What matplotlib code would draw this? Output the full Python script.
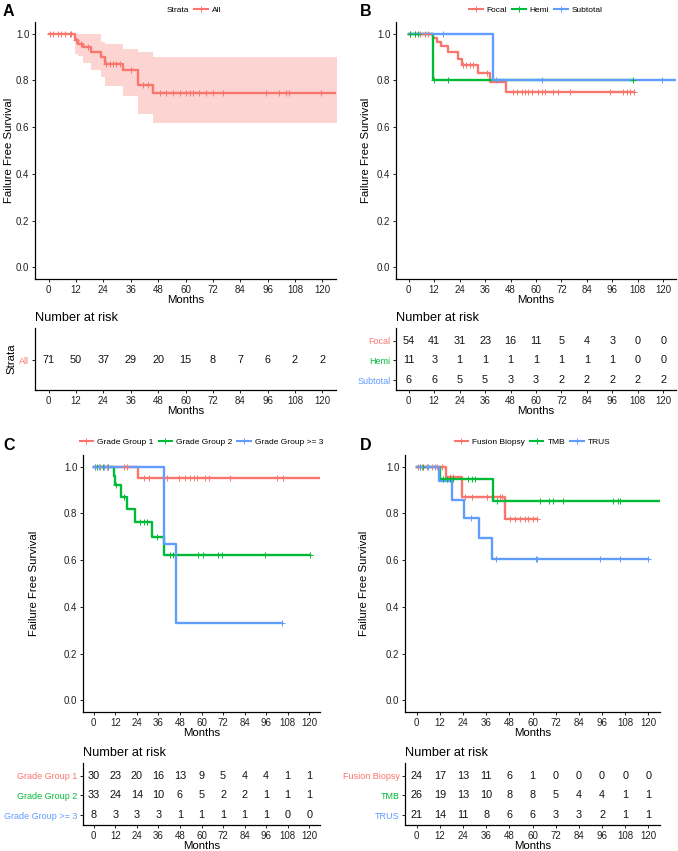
"""Kaplan-Meier failure free survival, four panels with number-at-risk tables."""

import matplotlib

matplotlib.use("Agg")

import matplotlib.pyplot as plt
import numpy as np
from matplotlib.lines import Line2D

plt.rcParams["font.family"] = ["Liberation Sans", "DejaVu Sans"]

WIDTH_PX = 678
HEIGHT_PX = 851

RED = "#F8766D"
GREEN = "#00BA38"
BLUE = "#619CFF"

TICKS = [0, 12, 24, 36, 48, 60, 72, 84, 96, 108, 120]

# Panel A, all patients
A_TIMES = [11.5, 13.0, 15.0, 18.7, 23.0, 24.5, 32.5, 39.0, 45.7]
A_SURV = [0.971, 0.957, 0.942, 0.920, 0.900, 0.871, 0.843, 0.781, 0.746]
A_UPPER = [1.0, 1.0, 1.0, 1.0, 0.965, 0.957, 0.935, 0.920, 0.900]
A_LOWER = [0.915, 0.905, 0.875, 0.845, 0.815, 0.775, 0.735, 0.658, 0.617]
A_CENSOR = [0.4, 1.9, 4.1, 5.5, 7.0, 9.2, 9.9, 12.1, 14.3, 17.2, 25.3, 26.7,
            28.2, 29.6, 31.1, 36.2, 41.3, 43.5, 48.6, 51.5, 54.5, 57.4, 60.3,
            61.8, 63.2, 66.1, 69.1, 72.0, 76.4, 95.3, 101.2, 104.1, 105.5, 119.4]
A_END = 130.0
A_RISK = [71, 50, 37, 29, 20, 15, 8, 7, 6, 2, 2]

# Panel B, by ablation extent
B_LABELS = ["Focal", "Hemi", "Subtotal"]
B_FOCAL_TIMES = [11.5, 13.1, 15.4, 18.6, 23.3, 24.9, 32.7, 38.3, 45.8]
B_FOCAL_SURV = [0.982, 0.965, 0.946, 0.920, 0.892, 0.864, 0.830, 0.794, 0.749]
B_FOCAL_CENSOR = [0.5, 2.8, 5.2, 7.6, 9.1, 25.7, 27.2, 28.8, 30.4, 37.0, 49.3,
                  50.9, 53.2, 54.8, 56.4, 58.0, 61.1, 62.7, 64.2, 68.2, 70.5,
                  76.0, 95.0, 101.2, 102.8, 104.4, 106.0]
B_FOCAL_END = 106.0
B_HEMI_TIMES = [11.5]
B_HEMI_SURV = [0.8]
B_HEMI_CENSOR = [0.5, 2.8, 4.4, 11.8, 18.6, 105.6]
B_HEMI_END = 105.6
B_SUB_TIMES = [39.5]
B_SUB_SURV = [0.8]
B_SUB_CENSOR = [16.0, 41.0, 62.6, 119.6]
B_SUB_END = 130.0
B_RISK = [
    [54, 41, 31, 23, 16, 11, 5, 4, 3, 0, 0],
    [11, 3, 1, 1, 1, 1, 1, 1, 1, 0, 0],
    [6, 6, 5, 5, 3, 3, 2, 2, 2, 2, 2],
]

# Panel C, by grade group
C_LABELS = ["Grade Group 1", "Grade Group 2", "Grade Group >= 3"]
C_G1_TIMES = [24.4]
C_G1_SURV = [0.95]
C_G1_CENSOR = [0.9, 3.7, 7.4, 16.7, 18.6, 27.8, 30.6, 40.8, 47.2, 50.9, 53.7,
               55.6, 57.4, 62.1, 63.9, 75.9, 101.9, 105.2]
C_G1_END = 130.0
C_G2_TIMES = [11.5, 12.1, 15.0, 18.6, 23.2, 32.4, 38.9]
C_G2_SURV = [0.962, 0.923, 0.871, 0.820, 0.764, 0.700, 0.620]
C_G2_CENSOR = [2.0, 5.0, 8.0, 12.4, 17.1, 25.9, 27.8, 29.7, 35.2, 42.6, 44.4,
               58.3, 61.1, 69.4, 71.3, 95.4, 120.4]
C_G2_END = 120.4
C_G3_TIMES = [39.3, 45.9]
C_G3_SURV = [0.667, 0.333]
C_G3_CENSOR = [0.5, 3.0, 5.5, 8.0, 104.7]
C_G3_END = 104.7
C_RISK = [
    [30, 23, 20, 16, 13, 9, 5, 4, 4, 1, 1],
    [33, 24, 14, 10, 6, 5, 2, 2, 1, 1, 1],
    [8, 3, 3, 3, 1, 1, 1, 1, 1, 0, 0],
]

# Panel D, by biopsy method
D_LABELS = ["Fusion Biopsy", "TMB", "TRUS"]
D_FUS_TIMES = [15.2, 23.3, 45.8]
D_FUS_SURV = [0.957, 0.871, 0.776]
D_FUS_CENSOR = [0.8, 2.6, 5.2, 7.8, 10.4, 13.0, 17.3, 19.0, 25.0, 28.5, 36.3,
                43.2, 44.0, 48.3, 50.9, 53.5, 56.1, 57.8, 60.4, 62.2]
D_FUS_END = 62.2
D_TMB_TIMES = [12.1, 39.7]
D_TMB_SURV = [0.947, 0.853]
D_TMB_CENSOR = [1.7, 3.4, 13.8, 15.5, 17.3, 19.0, 26.7, 28.5, 30.2, 41.5, 63.9,
                68.7, 70.8, 76.0, 101.6, 104.5, 105.3]
D_TMB_END = 130.0
D_TRUS_TIMES = [11.6, 18.3, 24.7, 32.3, 38.9]
D_TRUS_SURV = [0.940, 0.857, 0.781, 0.696, 0.607]
D_TRUS_CENSOR = [1.7, 6.0, 9.5, 28.0, 41.1, 61.8, 62.5, 95.0, 105.3, 120.0]
D_TRUS_END = 120.0
D_RISK = [
    [24, 17, 13, 11, 6, 1, 0, 0, 0, 0, 0],
    [26, 19, 13, 10, 8, 8, 5, 4, 4, 1, 1],
    [21, 14, 11, 8, 6, 6, 3, 3, 2, 1, 1],
]


def rect(left, top, right, bottom):
    return [left / WIDTH_PX, 1 - bottom / HEIGHT_PX,
            (right - left) / WIDTH_PX, (bottom - top) / HEIGHT_PX]


def fx(x):
    return x / WIDTH_PX


def fy(y):
    return 1 - y / HEIGHT_PX


def style(axes):
    axes.spines["top"].set_visible(False)
    axes.spines["right"].set_visible(False)
    axes.spines["left"].set_linewidth(0.9)
    axes.spines["bottom"].set_linewidth(0.9)
    axes.set_xlim(-6, 126)
    axes.set_xticks(TICKS)
    axes.tick_params(length=2.5, width=0.7, labelsize=7.0, pad=1.5,
                     colors="#222222")
    axes.set_xlabel("Months", fontsize=8.2, labelpad=0)


def draw_curve(axes, times, surv, censor, end, colour):
    x = [0.0] + list(times) + [end]
    y = [1.0] + list(surv) + [surv[-1]]
    axes.step(x, y, where="post", color=colour, linewidth=1.7, zorder=3)
    levels = np.array([1.0] + list(surv))
    idx = np.searchsorted(np.array(times), np.array(censor), side="right")
    axes.plot(censor, levels[idx], linestyle="", marker="+", markersize=4,
              markeredgewidth=0.7, color=colour, zorder=4)


def draw_panel(fig, letter, letter_px, ylabel_x, plot_px, table_px, curves,
               labels, colours, risk, rows, legend_y, strata_title=False):
    left, top, right, bottom = plot_px
    axes = fig.add_axes(rect(left, top, right, bottom))
    for curve, colour in zip(curves, colours):
        if "upper" in curve:
            x = [0.0] + curve["times"] + [curve["end"]]
            axes.fill_between(
                x,
                [1.0] + curve["lower"] + [curve["lower"][-1]],
                [1.0] + curve["upper"] + [curve["upper"][-1]],
                step="post", color=colour, alpha=0.3, linewidth=0, zorder=1,
            )
        draw_curve(axes, curve["times"], curve["surv"], curve["censor"],
                   curve["end"], colour)
    style(axes)
    axes.set_ylim(-0.05, 1.05)
    axes.set_yticks([0.0, 0.2, 0.4, 0.6, 0.8, 1.0])
    axes.set_yticklabels(["0.0", "0.2", "0.4", "0.6", "0.8", "1.0"])
    fig.text(fx(ylabel_x), fy((top + bottom) / 2), "Failure Free Survival",
             rotation=90, ha="center", va="center", fontsize=8.2)

    fig.text(fx(letter_px[0]), fy(letter_px[1]), letter, fontsize=11.5,
             fontweight="bold", va="center", ha="left")

    handles = [Line2D([], [], color=c, linewidth=1.5, marker="+",
                      markersize=4, markeredgewidth=0.7) for c in colours]
    centre = (left + right) / 2
    if strata_title:
        handles = [Line2D([], [], linestyle="")] + handles
        labels_legend = ["Strata"] + labels
    else:
        labels_legend = labels
    legend = axes.legend(handles, labels_legend, loc="center",
                         bbox_to_anchor=(fx(centre), fy(legend_y)),
                         bbox_transform=fig.transFigure, ncol=len(handles),
                         frameon=False, fontsize=6, handlelength=1.6,
                         handletextpad=0.5, columnspacing=0.6)
    if strata_title:
        legend.legend_handles[0].set_visible(False)

    tleft, ttop, tright, tbottom = table_px
    table = fig.add_axes(rect(tleft, ttop, tright, tbottom))
    style(table)
    table.set_ylim(3.5, 0.35)
    table.set_yticks(rows)
    table.set_yticklabels(labels, fontsize=6.5)
    for tick, colour in zip(table.get_yticklabels(), colours):
        tick.set_color(colour)
    for row, counts in zip(rows, risk):
        for month, count in zip(TICKS, counts):
            table.text(month, row, str(count), ha="center", va="center",
                       fontsize=7.8, color="#111111")
    table.text(0.0, 1.0 + 10 / (tbottom - ttop), "Number at risk",
               transform=table.transAxes, ha="left", va="center",
               fontsize=9.2)
    if strata_title:
        fig.text(fx(11), fy((ttop + tbottom) / 2), "Strata", rotation=90,
                 ha="center", va="center", fontsize=8.2)


def main():
    fig = plt.figure(figsize=(WIDTH_PX / 100, HEIGHT_PX / 100), dpi=100)

    draw_panel(
        fig, "A", (3, 11), 9, (35, 22, 336, 279), (35, 328, 336, 390),
        [{"times": A_TIMES, "surv": A_SURV, "censor": A_CENSOR, "end": A_END,
          "upper": A_UPPER, "lower": A_LOWER}],
        ["All"], [RED], [A_RISK], [2], 10, strata_title=True,
    )
    draw_panel(
        fig, "B", (360, 11), 366, (396, 22, 676, 279), (396, 328, 676, 390),
        [
            {"times": B_FOCAL_TIMES, "surv": B_FOCAL_SURV,
             "censor": B_FOCAL_CENSOR, "end": B_FOCAL_END},
            {"times": B_HEMI_TIMES, "surv": B_HEMI_SURV,
             "censor": B_HEMI_CENSOR, "end": B_HEMI_END},
            {"times": B_SUB_TIMES, "surv": B_SUB_SURV,
             "censor": B_SUB_CENSOR, "end": B_SUB_END},
        ],
        B_LABELS, [RED, GREEN, BLUE], B_RISK, [1, 2, 3], 10,
    )
    draw_panel(
        fig, "C", (3, 446), 34, (83, 455, 320, 712), (83, 763, 320, 825),
        [
            {"times": C_G1_TIMES, "surv": C_G1_SURV,
             "censor": C_G1_CENSOR, "end": C_G1_END},
            {"times": C_G2_TIMES, "surv": C_G2_SURV,
             "censor": C_G2_CENSOR, "end": C_G2_END},
            {"times": C_G3_TIMES, "surv": C_G3_SURV,
             "censor": C_G3_CENSOR, "end": C_G3_END},
        ],
        C_LABELS, [RED, GREEN, BLUE], C_RISK, [1, 2, 3], 442,
    )
    draw_panel(
        fig, "D", (360, 446), 364, (405, 455, 660, 712), (405, 763, 660, 825),
        [
            {"times": D_FUS_TIMES, "surv": D_FUS_SURV,
             "censor": D_FUS_CENSOR, "end": D_FUS_END},
            {"times": D_TMB_TIMES, "surv": D_TMB_SURV,
             "censor": D_TMB_CENSOR, "end": D_TMB_END},
            {"times": D_TRUS_TIMES, "surv": D_TRUS_SURV,
             "censor": D_TRUS_CENSOR, "end": D_TRUS_END},
        ],
        D_LABELS, [RED, GREEN, BLUE], D_RISK, [1, 2, 3], 442,
    )

    fig.savefig("out.png", dpi=100)
    plt.close(fig)


if __name__ == "__main__":
    main()
